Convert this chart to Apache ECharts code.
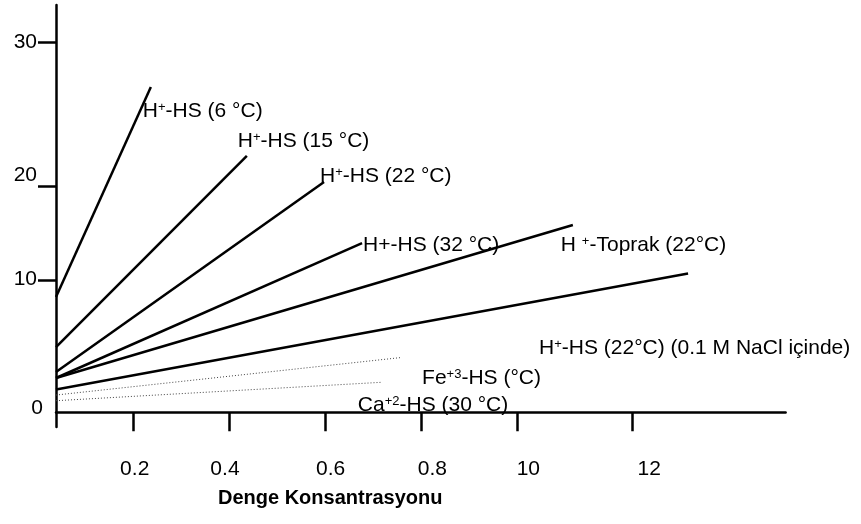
<!DOCTYPE html>
<html>
<head>
<meta charset="utf-8">
<script src="https://cdn.jsdelivr.net/npm/echarts@6/dist/echarts.min.js"></script>
<style>
  html, body { margin: 0; padding: 0; background: #fff; }
  #chart { width: 861px; height: 524px; }
</style>
</head>
<body>
<div id="chart"></div>
<script>
// Isotherm lines: each runs from x = 0 to its end point.
const lineLabels = [
  '{t|H}{s|+}{t|-HS (6 °C)}',
  '{t|H}{s|+}{t|-HS (15 °C)}',
  '{t|H}{s|+}{t|-HS (22 °C)}',
  '{t|H+-HS (32 °C)}',
  '{t|H }{s|+}{t|-Toprak (22°C)}',
  '{t|H}{s|+}{t|-HS (22°C) (0.1 M NaCl içinde)}',
  '{t|Fe}{s|+3}{t|-HS (°C)}',
  '{t|Ca}{s|+2}{t|-HS (30 °C)}'
];
const lineStartY = [9.34, 5.28, 3.26, 2.77, 2.77, 1.84, 1.39, 0.93];
const lineEndX   = [0.247, 0.497, 0.698, 0.797, 1.346, 1.646, 0.896, 0.846];
const lineEndY   = [26.36, 20.77, 18.66, 13.71, 15.17, 11.24, 4.42, 2.42];
const dottedLine = [false, false, false, false, false, false, true, true];

// Axis ticks and their printed labels
const xTickAt    = [0.2, 0.45, 0.7, 0.95, 1.2, 1.5];
const xLabelAt   = [0.205, 0.44, 0.715, 0.98, 1.23, 1.545];
const xLabelText = ['0.2', '0.4', '0.6', '0.8', '10', '12'];
const yTickAt    = [10.7, 18.3, 30];
const yLabelAt   = [0.3, 10.8, 19.2, 30];
const yLabelText = ['0', '10', '20', '30'];

// Label placement relative to each line's end point (pixels)
const labelOffsets = [[-8, 24], [-9, -14.5], [-4, -5.5], [1, 2], [-12, 20], [-149, 75], [22, 21], [-23, 23]];

const FONT = '"Liberation Sans", Arial, sans-serif';

function pick(at, text, v) {
  let best = 0;
  for (let i = 1; i < at.length; i++) {
    if (Math.abs(at[i] - v) < Math.abs(at[best] - v)) best = i;
  }
  return text[best];
}

const richStyles = {
  t: { fontSize: 21, fontFamily: FONT, color: '#000' },
  s: { fontSize: 13, fontFamily: FONT, color: '#000', verticalAlign: 'top' }
};

const series = lineLabels.map((lbl, i) => ({
  type: 'line',
  data: [
    [0, lineStartY[i]],
    {
      value: [lineEndX[i], lineEndY[i]],
      label: {
        show: true,
        position: 'right',
        distance: 0,
        offset: labelOffsets[i],
        formatter: lbl,
        rich: richStyles
      }
    }
  ],
  symbol: 'circle',
  symbolSize: 0,
  showSymbol: true,
  silent: true,
  z: 3,
  lineStyle: dottedLine[i]
    ? { color: '#444', width: 1, type: [1, 2] }
    : { color: '#000', width: 2.5 },
  itemStyle: { color: '#000' }
}));

const chart = echarts.init(document.getElementById('chart'), null, { renderer: 'canvas' });
chart.setOption({
  animation: false,
  backgroundColor: '#fff',
  title: {
    text: 'Denge Konsantrasyonu',
    left: 218,
    top: 488,
    padding: 0,
    textStyle: { fontSize: 20, fontWeight: 'bold', color: '#000', fontFamily: FONT }
  },
  grid: { left: 56, right: 75.4, top: 5, bottom: 97, containLabel: false },
  xAxis: {
    type: 'value',
    min: 0,
    max: 1.9,
    axisLine: { show: true, onZero: true, lineStyle: { color: '#000', width: 2.5 } },
    axisTick: { show: true, inside: false, length: 19, customValues: xTickAt, lineStyle: { color: '#000', width: 2.5 } },
    axisLabel: {
      show: true,
      customValues: xLabelAt,
      margin: 32,
      fontSize: 21,
      fontFamily: FONT,
      color: '#000',
      formatter: v => pick(xLabelAt, xLabelText, v)
    },
    splitLine: { show: false }
  },
  yAxis: {
    type: 'value',
    min: -1.2,
    max: 33,
    axisLine: { show: true, onZero: false, lineStyle: { color: '#000', width: 2.5 } },
    axisTick: { show: true, inside: false, length: 18, customValues: yTickAt, lineStyle: { color: '#000', width: 2.5 } },
    axisLabel: {
      show: true,
      customValues: yLabelAt,
      margin: 13,
      fontSize: 21,
      fontFamily: FONT,
      color: '#000',
      formatter: v => {
        const t = pick(yLabelAt, yLabelText, v);
        return t === '0' ? '{z|0}' : '{p|' + t + '}';
      },
      rich: {
        z: { fontSize: 21, fontFamily: FONT, color: '#000' },
        p: { fontSize: 21, fontFamily: FONT, color: '#000', padding: [0, 6, 0, 0] }
      }
    },
    splitLine: { show: false }
  },
  series: series
});
</script>
</body>
</html>
